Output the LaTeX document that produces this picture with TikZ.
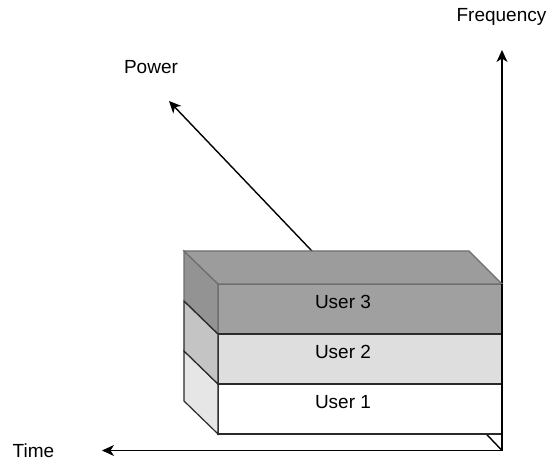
\documentclass[tikz,border=0pt]{standalone}
\usepackage{fontspec}
\setmainfont{Liberation Sans}
\usetikzlibrary{arrows.meta}
\definecolor{uthreefront}{HTML}{A0A0A0}
\definecolor{uthreetop}{HTML}{9C9C9C}
\definecolor{uthreeside}{HTML}{939393}
\definecolor{uthreeedge}{HTML}{6E6E6E}
\definecolor{utwofront}{HTML}{DEDEDE}
\definecolor{utwoside}{HTML}{C4C4C4}
\definecolor{uoneside}{HTML}{E6E6E6}
\definecolor{boxedge}{HTML}{2A2A2A}
\tikzset{
  axis/.style={line width=1.4pt, -{Stealth[length=12pt,width=11pt,inset=3.5pt]}},
  lbl/.style={font=\fontsize{19}{22}\selectfont, anchor=base, inner sep=0pt},
  face/.style={line width=1.2pt, line join=miter},
}
\begin{document}
\begin{tikzpicture}[x=1pt,y=-1pt]
\useasboundingbox (0,0) rectangle (549,462);
% axes
\coordinate (O) at (502,450.5);
\coordinate (P) at (169,101);
\coordinate (F) at (502,50);
\coordinate (T) at (102,450.5);
\draw[axis] (O) -- (P);
\draw[axis] (O) -- (F);
\draw[axis] (O) -- (T);
% User 1
\draw[face, draw=boxedge, fill=white] (218,384) rectangle (502,434);
\draw[face, draw=boxedge, fill=uoneside] (184,351) -- (218,384) -- (218,434) -- (184,401) -- cycle;
% User 2
\draw[face, draw=boxedge, fill=utwofront] (218,334) rectangle (502,384);
\draw[face, draw=boxedge, fill=utwoside] (184,301) -- (218,334) -- (218,384) -- (184,351) -- cycle;
% User 3
\draw[face, draw=uthreeedge, fill=uthreefront] (218,284) rectangle (502,334);
\draw[face, draw=uthreeedge, fill=uthreeside] (184,251) -- (218,284) -- (218,334) -- (184,301) -- cycle;
\draw[face, draw=uthreeedge, fill=uthreetop] (184,251) -- (469,251) -- (502,284) -- (218,284) -- cycle;
\draw[line width=1.2pt, draw=boxedge] (218,334) -- (502,334);
\draw[line width=1.2pt, draw=boxedge] (184,301) -- (218,334);
\draw[line width=1.4pt] (502,284) -- (O);
% labels
\node[lbl] (u3) at (343,308.3) {User 3};
\node[lbl] (u2) at (343,358.3) {User 2};
\node[lbl] (u1) at (343,408.3) {User 1};
\node[lbl] (pw) at (151,73.3) {Power};
\node[lbl] (fr) at (501.5,21.5) {Frequency};
\node[lbl] (tm) at (33.5,457) {Time};
\end{tikzpicture}
\end{document}
